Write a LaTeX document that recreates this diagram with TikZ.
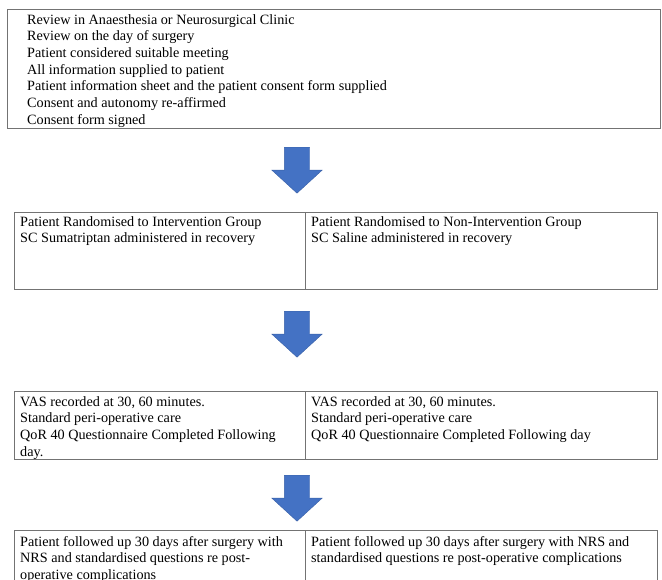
\documentclass[tikz,border=0pt]{standalone}
\usepackage{fontspec}
\setmainfont{Liberation Serif}
\usetikzlibrary{shapes.arrows}
\definecolor{flowblue}{HTML}{4472C4}
\tikzset{
  box/.style={draw=black!55, line width=0.8pt, inner sep=0pt, anchor=north west},
  boxtext/.style={anchor=north west, align=left, inner sep=0pt,
    font=\fontsize{14.2}{16.7}\selectfont},
  blockarrow/.style={single arrow, shape border rotate=270, fill=flowblue,
    draw=flowblue!85!black, line width=0.4pt, inner sep=12.5pt, anchor=tail,
    minimum height=46pt, single arrow head extend=12.5pt,
    single arrow tip angle=95}
}

\begin{document}
\begin{tikzpicture}[x=1pt, y=-1pt]

% page
\useasboundingbox (0,0) rectangle (662,579);
\clip (0,0) rectangle (662,579);

% Screening
\node[box, minimum width=653pt, minimum height=119pt] (screen) at (7,9) {};
\node[boxtext] (screentxt) at (27,14) {Review in Anaesthesia or Neurosurgical Clinic\\
  Review on the day of surgery\\
  Patient considered suitable meeting\\
  All information supplied to patient\\
  Patient information sheet and the patient consent form supplied\\
  Consent and autonomy re-affirmed\\
  Consent form signed};

\node[blockarrow] (arrA) at (297,147) {};

% Randomisation
\node[box, minimum width=291pt, minimum height=77pt] (randL) at (14,212) {};
\node[box, minimum width=352pt, minimum height=77pt] (randR) at (305,212) {};
\node[boxtext] (randLtxt) at (20,216) {Patient Randomised to Intervention Group\\
  SC Sumatriptan administered in recovery};
\node[boxtext] (randRtxt) at (311,216) {Patient Randomised to Non-Intervention Group\\
  SC Saline administered in recovery};

\node[blockarrow] (arrB) at (297,311) {};

% Post-operative
\node[box, minimum width=291pt, minimum height=68pt] (postL) at (14,391) {};
\node[box, minimum width=352pt, minimum height=68pt] (postR) at (305,391) {};
\node[boxtext] (postLtxt) at (20,396) {VAS recorded at 30, 60 minutes.\\
  Standard peri-operative care\\
  QoR 40 Questionnaire Completed Following\\
  day.};
\node[boxtext] (postRtxt) at (311,396) {VAS recorded at 30, 60 minutes.\\
  Standard peri-operative care\\
  QoR 40 Questionnaire Completed Following day};

\node[blockarrow] (arrC) at (297,475) {};

% Follow-up
\node[box, minimum width=291pt, minimum height=80pt] (followL) at (14,530) {};
\node[box, minimum width=352pt, minimum height=80pt] (followR) at (305,530) {};
\node[boxtext] (followLtxt) at (20,536) {Patient followed up 30 days after surgery with\\
  NRS and standardised questions re post-\\
  operative complications};
\node[boxtext] (followRtxt) at (311,536) {Patient followed up 30 days after surgery with NRS and\\
  standardised questions re post-operative complications};

\end{tikzpicture}
\end{document}
